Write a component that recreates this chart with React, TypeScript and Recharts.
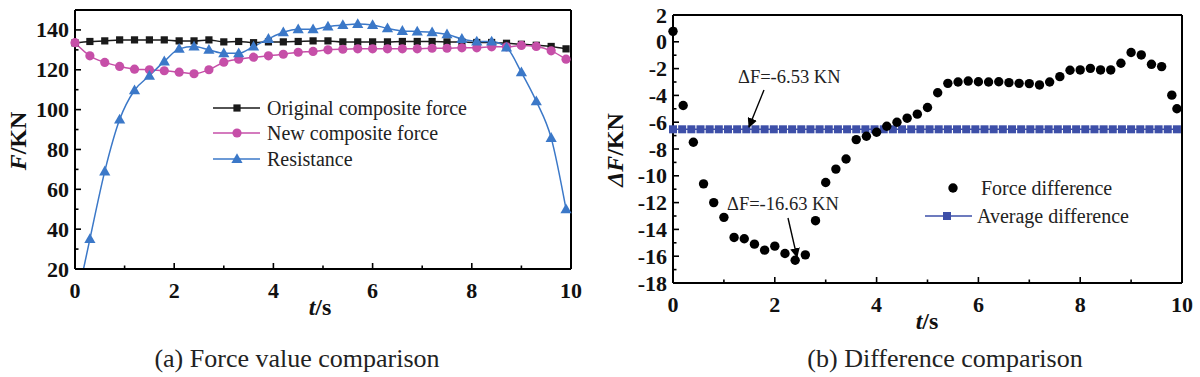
import React from "react";
import { ComposedChart, Line, Scatter, XAxis, YAxis } from "recharts";

const FONT = '"Liberation Serif", "Times New Roman", serif';
const PINK = "#c64fa8";
const BLUE = "#3b78c8";
const NAVY = "#3d4fa8";

// (a) force values, sampled every 0.3 s
const timeA = [
  0, 0.3, 0.6, 0.9, 1.2, 1.5, 1.8, 2.1, 2.4, 2.7, 3.0, 3.3, 3.6, 3.9, 4.2, 4.5, 4.8,
  5.1, 5.4, 5.7, 6.0, 6.3, 6.6, 6.9, 7.2, 7.5, 7.8, 8.1, 8.4, 8.7, 9.0, 9.3, 9.6, 9.9,
];
const originalForce = [
  133.5, 134.2, 134.5, 135, 135, 135, 135, 134.5, 134.5, 135, 134, 134.2, 133.6, 134, 134,
  134.2, 134.5, 134.5, 134, 134, 134, 134, 134.2, 134.2, 134.2, 134, 133.9, 133.7, 133.7,
  133.3, 132.8, 132.3, 131.7, 130.5,
];
const newForce = [
  133.6, 127, 123.7, 121.7, 120.3, 120, 119.5, 118.8, 118, 120, 123.8, 125.3, 126.3, 127,
  127.8, 128.8, 129.2, 130, 130.3, 130.5, 130.5, 130.5, 130.5, 130.5, 130.8, 130.8, 131, 131,
  131.5, 131.5, 132.2, 131.7, 129.5, 125.3,
];
const resistance = [
  0, 35, 69, 95, 109.7, 117, 124.2, 130.5, 131.7, 130, 128.3, 128.3, 131.7, 135.5, 138.8,
  140.3, 140.3, 141.7, 142.5, 143, 142.5, 140.8, 139.5, 139.2, 138.8, 137.8, 135.5, 134.2,
  134.2, 131.2, 118.7, 104.2, 85.8, 50,
];

// (b) differences
const diffTime = [
  0, 0.2, 0.4, 0.6, 0.8, 1.0, 1.2, 1.4, 1.6, 1.8, 2.0, 2.2, 2.4, 2.6, 2.8, 3.0, 3.2, 3.4,
  3.6, 3.8, 4.0, 4.2, 4.4, 4.6, 4.8, 5.0, 5.2, 5.4, 5.6, 5.8, 6.0, 6.2, 6.4, 6.6, 6.8, 7.0,
  7.2, 7.4, 7.6, 7.8, 8.0, 8.2, 8.4, 8.6, 8.8, 9.0, 9.2, 9.4, 9.6, 9.8, 9.9,
];
const diffValues = [
  0.78, -4.75, -7.5, -10.6, -12, -13.1, -14.6, -14.7, -15.1, -15.55, -15.25, -15.8, -16.3,
  -15.9, -13.35, -10.5, -9.5, -8.75, -7.3, -7.05, -6.75, -6.3, -6.0, -5.7, -5.4, -4.9, -3.8,
  -3.1, -3.0, -2.93, -2.98, -3.0, -2.98, -3.05, -3.1, -3.12, -3.22, -3.0, -2.6, -2.12, -2.1,
  -1.98, -2.1, -2.1, -1.6, -0.8, -0.98, -1.68, -1.85, -3.98, -5.0,
];
const avgTime = [
  0, 0.18, 0.36, 0.54, 0.72, 0.9, 1.08, 1.26, 1.44, 1.62, 1.8, 1.98, 2.16, 2.34, 2.52, 2.7,
  2.88, 3.06, 3.24, 3.42, 3.6, 3.78, 3.96, 4.14, 4.32, 4.5, 4.68, 4.86, 5.04, 5.22, 5.4, 5.58,
  5.76, 5.94, 6.12, 6.3, 6.48, 6.66, 6.84, 7.02, 7.2, 7.38, 7.56, 7.74, 7.92, 8.1, 8.28, 8.46,
  8.64, 8.82, 9.0, 9.18, 9.36, 9.54, 9.72, 9.9,
];
const AVG_DIFF = -6.53;

const xTicks = [0, 1, 2, 3, 4, 5, 6, 7, 8, 9, 10];
const forceTicks = [20, 30, 40, 50, 60, 70, 80, 90, 100, 110, 120, 130, 140];
const diffTicks = [-18, -17, -16, -15, -14, -13, -12, -11, -10, -9, -8, -7, -6, -5, -4, -3, -2, -1, 0, 1, 2];

const forceRows = timeA.map((t, i) => ({
  t,
  original: originalForce[i],
  composite: newForce[i],
  resistance: resistance[i],
}));
const diffRows = diffTime.map((t, i) => ({ t, v: diffValues[i] }));
const avgRows = avgTime.map((t) => ({ t, v: AVG_DIFF }));

const tickText = { fontFamily: FONT, fontWeight: 700, fontSize: 22, fill: "#111" };

const bottomTick = (majorEvery: number) => (p: any) => {
  const v = p.payload.value;
  const major = v % majorEvery === 0;
  return (
    <g key={`bx-${v}`}>
      <line x1={p.x} x2={p.x} y1={p.y} y2={p.y - (major ? 6 : 3.5)} stroke="#000" strokeWidth={1.6} />
      {major && (
        <text x={p.x} y={p.y + 21} textAnchor="middle" dominantBaseline="central" {...tickText}>
          {v}
        </text>
      )}
    </g>
  );
};

const leftTick = (majorEvery: number, gap: number) => (p: any) => {
  const v = p.payload.value;
  const major = v % majorEvery === 0;
  return (
    <g key={`ly-${v}`}>
      <line x1={p.x} x2={p.x + (major ? 6 : 3.5)} y1={p.y} y2={p.y} stroke="#000" strokeWidth={1.6} />
      {major && (
        <text x={p.x - gap} y={p.y} textAnchor="end" dominantBaseline="central" {...tickText}>
          {v}
        </text>
      )}
    </g>
  );
};

const squareDot = (p: any) =>
  p.cy == null ? <g key={`s-${p.index}`} /> : (
    <rect key={`s-${p.index}`} x={p.cx - 3.6} y={p.cy - 3.6} width={7.2} height={7.2} fill="#1a1a1a" />
  );
const circleDot = (p: any) =>
  p.cy == null ? <g key={`c-${p.index}`} /> : (
    <circle key={`c-${p.index}`} cx={p.cx} cy={p.cy} r={4.6} fill={PINK} />
  );
const triDot = (p: any) =>
  p.cy == null ? <g key={`t-${p.index}`} /> : (
    <polygon
      key={`t-${p.index}`}
      points={`${p.cx},${p.cy - 5.8} ${p.cx - 5.6},${p.cy + 4} ${p.cx + 5.6},${p.cy + 4}`}
      fill={BLUE}
    />
  );

const frame = { stroke: "#000", strokeWidth: 2 };

function ForceChart() {
  return (
    <ComposedChart
      width={600}
      height={377}
      data={forceRows}
      margin={{ top: 9, left: 74, right: 28, bottom: 107 }}
    >
      <XAxis
        dataKey="t"
        type="number"
        domain={[0, 10]}
        ticks={xTicks}
        interval={0}
        height={1}
        tickSize={0}
        tickMargin={0}
        tickLine={false}
        axisLine={frame}
        tick={bottomTick(2)}
      />
      <XAxis xAxisId="top" orientation="top" dataKey="t" type="number" domain={[0, 10]} height={1} tick={false} tickLine={false} axisLine={frame} />
      <YAxis
        type="number"
        domain={[20, 150]}
        allowDataOverflow
        ticks={forceTicks}
        interval={0}
        width={1}
        tickSize={0}
        tickMargin={0}
        tickLine={false}
        axisLine={frame}
        tick={leftTick(20, 6)}
      />
      <YAxis yAxisId="right" orientation="right" type="number" domain={[20, 150]} width={1} tick={false} tickLine={false} axisLine={frame} />
      <Line type="monotone" dataKey="original" stroke="#1a1a1a" strokeWidth={1.5} dot={squareDot} isAnimationActive={false} />
      <Line type="monotone" dataKey="composite" stroke={PINK} strokeWidth={1.5} dot={circleDot} isAnimationActive={false} />
      <Line type="monotone" dataKey="resistance" stroke={BLUE} strokeWidth={1.5} dot={triDot} isAnimationActive={false} />
    </ComposedChart>
  );
}

function DiffChart() {
  return (
    <ComposedChart width={600} height={377} margin={{ top: 14, left: 72, right: 17, bottom: 93 }}>
      <XAxis
        dataKey="t"
        type="number"
        domain={[0, 10]}
        ticks={xTicks}
        interval={0}
        height={1}
        tickSize={0}
        tickMargin={0}
        tickLine={false}
        axisLine={frame}
        tick={bottomTick(2)}
      />
      <XAxis xAxisId="top" orientation="top" dataKey="t" type="number" domain={[0, 10]} height={1} tick={false} tickLine={false} axisLine={frame} />
      <YAxis
        dataKey="v"
        type="number"
        domain={[-18, 2]}
        ticks={diffTicks}
        interval={0}
        width={1}
        tickSize={0}
        tickMargin={0}
        tickLine={false}
        axisLine={frame}
        tick={leftTick(2, 6)}
      />
      <YAxis yAxisId="right" orientation="right" dataKey="v" type="number" domain={[-18, 2]} width={1} tick={false} tickLine={false} axisLine={frame} />
      <Scatter
        data={avgRows}
        dataKey="v"
        line={{ stroke: NAVY, strokeWidth: 1.5 }}
        shape={(p: any) => <rect x={p.cx - 4} y={p.cy - 4} width={8} height={8} fill={NAVY} />}
        isAnimationActive={false}
      />
      <Scatter
        data={diffRows}
        dataKey="v"
        shape={(p: any) => <circle cx={p.cx} cy={p.cy} r={4.7} fill="#000" />}
        isAnimationActive={false}
      />
    </ComposedChart>
  );
}

const label = { fontFamily: FONT, fontSize: 20, fill: "#222" };
const title = { fontFamily: FONT, fontSize: 24, fontWeight: 700, fill: "#111" };

function Overlay() {
  return (
    <svg width={1200} height={377} style={{ position: "absolute", left: 0, top: 0, pointerEvents: "none" }}>
      <defs>
        <marker id="ah" viewBox="0 0 10 10" refX="9" refY="5" markerWidth="7" markerHeight="7" orient="auto">
          <path d="M0,0 L10,5 L0,10 z" fill="#000" />
        </marker>
      </defs>

      {/* left legend */}
      <line x1={213} x2={260} y1={108} y2={108} stroke="#1a1a1a" strokeWidth={1.5} />
      <rect x={233.4} y={104.4} width={7.2} height={7.2} fill="#1a1a1a" />
      <text x={267} y={108} dominantBaseline="central" {...label}>Original composite force</text>
      <line x1={213} x2={260} y1={133} y2={133} stroke={PINK} strokeWidth={1.5} />
      <circle cx={237} cy={133} r={4.6} fill={PINK} />
      <text x={267} y={133} dominantBaseline="central" {...label}>New composite force</text>
      <line x1={213} x2={260} y1={159} y2={159} stroke={BLUE} strokeWidth={1.5} />
      <polygon points="237,153.2 231.4,163 242.6,163" fill={BLUE} />
      <text x={267} y={159} dominantBaseline="central" {...label}>Resistance</text>

      {/* axis titles (a) */}
      <text transform="translate(18,141) rotate(-90)" textAnchor="middle" dominantBaseline="central" {...title}>
        <tspan fontStyle="italic">F</tspan>/KN
      </text>
      <text x={320} y={307} textAnchor="middle" dominantBaseline="central" {...title}>
        <tspan fontStyle="italic">t</tspan>/s
      </text>
      <text x={297} y={358} textAnchor="middle" dominantBaseline="central" fontFamily={FONT} fontSize={26} fill="#222">
        (a) Force value comparison
      </text>

      {/* right legend */}
      <circle cx={953} cy={188} r={4.7} fill="#000" />
      <text x={981} y={188} dominantBaseline="central" {...label}>Force difference</text>
      <line x1={925} x2={972} y1={216} y2={216} stroke={NAVY} strokeWidth={1.5} />
      <rect x={943} y={212} width={8} height={8} fill={NAVY} />
      <text x={977} y={216} dominantBaseline="central" {...label}>Average difference</text>

      {/* annotations */}
      <text x={738} y={83} fontFamily={FONT} fontSize={18.5} fill="#222">ΔF=-6.53 KN</text>
      <line x1={764} y1={90} x2={749} y2={127} stroke="#000" strokeWidth={1.4} markerEnd="url(#ah)" />
      <text x={727} y={210} fontFamily={FONT} fontSize={18.5} fill="#222">ΔF=-16.63 KN</text>
      <line x1={788} y1={218} x2={797} y2={257} stroke="#000" strokeWidth={1.4} markerEnd="url(#ah)" />

      {/* axis titles (b) */}
      <text transform="translate(615,150) rotate(-90)" textAnchor="middle" dominantBaseline="central" {...title}>
        <tspan fontStyle="italic">ΔF</tspan>/KN
      </text>
      <text x={927} y={321} textAnchor="middle" dominantBaseline="central" {...title}>
        <tspan fontStyle="italic">t</tspan>/s
      </text>
      <text x={945} y={358} textAnchor="middle" dominantBaseline="central" fontFamily={FONT} fontSize={26} fill="#222">
        (b) Difference comparison
      </text>
    </svg>
  );
}

export default function App() {
  return (
    <div style={{ position: "absolute", left: 0, top: 0, width: 1200, height: 377, background: "#fff", overflow: "hidden" }}>
      <div style={{ position: "absolute", left: 0, top: 0 }}>
        <ForceChart />
      </div>
      <div style={{ position: "absolute", left: 600, top: 0 }}>
        <DiffChart />
      </div>
      <Overlay />
    </div>
  );
}
